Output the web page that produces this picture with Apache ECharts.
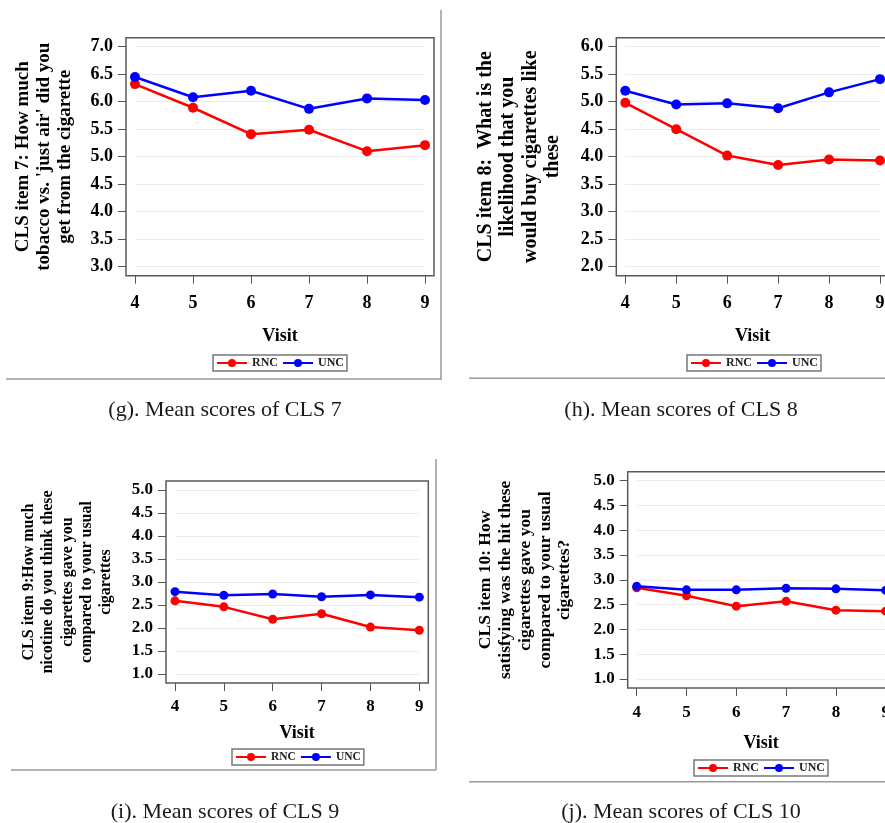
<!DOCTYPE html>
<html>
<head>
<meta charset="utf-8">
<style>
  html, body { margin: 0; padding: 0; background: #fff; }
  #chart { width: 885px; height: 823px; }
</style>
<script src="https://cdn.jsdelivr.net/npm/echarts@6/dist/echarts.min.js"></script>
</head>
<body>
<div id="chart"></div>
<script>
// values
const visits = [4, 5, 6, 7, 8, 9];

const cls7Rnc = [6.32, 5.89, 5.41, 5.49, 5.10, 5.21];
const cls7Unc = [6.45, 6.08, 6.20, 5.87, 6.06, 6.03];

const cls8Rnc = [4.98, 4.50, 4.02, 3.85, 3.95, 3.93];
const cls8Unc = [5.20, 4.95, 4.97, 4.88, 5.17, 5.41];

const cls9Rnc = [2.59, 2.46, 2.19, 2.31, 2.02, 1.95];
const cls9Unc = [2.79, 2.71, 2.74, 2.68, 2.72, 2.67];

const cls10Rnc = [2.84, 2.68, 2.47, 2.57, 2.39, 2.37];
const cls10Unc = [2.87, 2.80, 2.80, 2.83, 2.82, 2.79];

const yRanges = [[3, 7], [2, 6], [1, 5], [1, 5]];

const yNames = [
    "CLS item 7: How much\ntobacco vs. 'just air' did you\nget from the cigarette",
    "CLS item 8:  What is the\nlikelihood that you\nwould buy cigarettes like\nthese",
    "CLS item 9:How much\nnicotine do you think these\ncigarettes gave you\ncompared to your usual\ncigarettes",
    "CLS item 10: How\nsatisfying was the hit these\ncigarettes gave you\ncompared to your usual\ncigarettes?"
];

const captions = [
    '(g). Mean scores of CLS 7',
    '(h). Mean scores of CLS 8',
    '(i). Mean scores of CLS 9',
    '(j). Mean scores of CLS 10'
];

const seriesData = [
    [cls7Rnc, cls7Unc],
    [cls8Rnc, cls8Unc],
    [cls9Rnc, cls9Unc],
    [cls10Rnc, cls10Unc]
];

// layout of each panel (grid = tick range, frame is drawn PAD outside it)
const PAD = 9;
const layouts = [
    {left: 135, top: 46.7, width: 290, height: 220, nameGap: 50, nameSize: 19, nameLh: 21,
     tickSize: 18, xMargin: 19, visitGap: 52, sym: 10, legSize: 12, legend: [213, 355], caption: [225, 410]},
    {left: 625.3, top: 46.7, width: 254.7, height: 220, nameGap: 52, nameSize: 20, nameLh: 22.4,
     tickSize: 18, xMargin: 19, visitGap: 52, sym: 10, legSize: 12, legend: [687, 355], caption: [681, 410]},
    {left: 175, top: 490, width: 244.3, height: 184, nameGap: 50, nameSize: 16, nameLh: 19.4,
     tickSize: 17, xMargin: 15.5, visitGap: 41.5, sym: 9, legSize: 11.5, legend: [232, 749], caption: [225, 812]},
    {left: 636.7, top: 480.7, width: 249, height: 198.4, nameGap: 53, nameSize: 17.5, nameLh: 19.8,
     tickSize: 17, xMargin: 16.5, visitGap: 46, sym: 9, legSize: 12, legend: [694, 760], caption: [681, 812]}
];

const FONT = '"Liberation Serif", "Times New Roman", serif';
const RED = '#ff0000';
const BLUE = '#0000ff';

const chart = echarts.init(document.getElementById('chart'));

const grids = [], xAxes = [], yAxes = [], series = [], legends = [], graphics = [];

layouts.forEach((l, i) => {
    grids.push({left: l.left, top: l.top, width: l.width, height: l.height, outerBoundsMode: 'none', containLabel: false});

    xAxes.push({
        type: 'value', gridIndex: i, min: 4, max: 9, interval: 1, offset: PAD,
        name: 'Visit', nameLocation: 'middle', nameGap: l.visitGap,
        nameTextStyle: {fontFamily: FONT, fontWeight: 'bold', fontSize: 18, color: '#000'},
        axisLine: {show: false},
        axisTick: {show: true, length: 8, lineStyle: {color: '#555', width: 1}},
        axisLabel: {fontFamily: FONT, fontWeight: 'bold', fontSize: l.tickSize, color: '#000', margin: l.xMargin,
            showMinLabel: true, showMaxLabel: true},
        splitLine: {show: false}
    });

    yAxes.push({
        type: 'value', gridIndex: i, min: yRanges[i][0], max: yRanges[i][1], interval: 0.5, offset: PAD,
        name: yNames[i], nameLocation: 'middle', nameGap: l.nameGap, nameRotate: 90,
        nameTextStyle: {fontFamily: FONT, fontWeight: 'bold', fontSize: l.nameSize, lineHeight: l.nameLh, color: '#000', align: 'center'},
        axisLine: {show: false},
        axisTick: {show: true, length: 8, lineStyle: {color: '#555', width: 1}},
        axisLabel: {fontFamily: FONT, fontWeight: 'bold', fontSize: l.tickSize, color: '#000', margin: 13,
            formatter: v => v.toFixed(1)},
        splitLine: {show: true, lineStyle: {color: '#ececec', width: 1}}
    });

    ['RNC', 'UNC'].forEach((name, k) => {
        const color = k === 0 ? RED : BLUE;
        series.push({
            type: 'line', name: name, xAxisIndex: i, yAxisIndex: i,
            data: visits.map((v, j) => [v, seriesData[i][k][j]]),
            symbol: 'circle', symbolSize: l.sym, clip: false,
            lineStyle: {color: color, width: 2.5},
            itemStyle: {color: color},
            z: 3 + k
        });
    });

    legends.push({
        data: ['RNC', 'UNC'], left: l.legend[0], top: l.legend[1], orient: 'horizontal',
        selectedMode: false, itemWidth: 30, itemHeight: 10, itemGap: 4,
        padding: [2, 3, 2, 3], borderColor: '#777', borderWidth: 1.5,
        textStyle: {fontFamily: FONT, fontWeight: 'bold', fontSize: l.legSize, color: '#222'}
    });

    // plot frame
    graphics.push({
        type: 'rect', silent: true, z: 10,
        shape: {x: l.left - PAD, y: l.top - PAD, width: l.width + 2 * PAD, height: l.height + 2 * PAD},
        style: {fill: null, stroke: '#5a5a5a', lineWidth: 1.5}
    });

    graphics.push({
        type: 'text', silent: true, x: l.caption[0], y: l.caption[1],
        style: {text: captions[i], fill: '#1a1a1a', font: '22px ' + FONT, align: 'center', verticalAlign: 'middle'}
    });
});

// outer panel separators
const sep = (x1, y1, x2, y2) => ({
    type: 'line', silent: true,
    shape: {x1: x1, y1: y1, x2: x2, y2: y2},
    style: {stroke: '#9a9a9a', lineWidth: 1.5}
});
graphics.push(sep(441, 10, 441, 380));
graphics.push(sep(6, 379, 441, 379));
graphics.push(sep(469, 378.3, 885, 378.3));
graphics.push(sep(436, 459, 436, 770));
graphics.push(sep(11, 770, 436, 770));
graphics.push(sep(469, 781.7, 885, 781.7));

chart.setOption({
    animation: false,
    backgroundColor: '#fff',
    grid: grids,
    xAxis: xAxes,
    yAxis: yAxes,
    legend: legends,
    series: series,
    graphic: graphics
});

window.addEventListener('resize', () => chart.resize());
</script>
</body>
</html>
